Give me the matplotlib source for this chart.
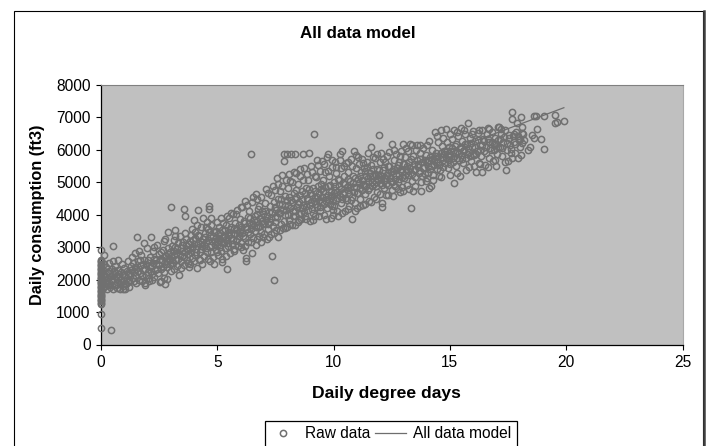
import numpy as np
import matplotlib.pyplot as plt
from matplotlib.patches import Rectangle

plt.rcParams["font.family"] = ["Liberation Sans", "DejaVu Sans"]

# -------------------------------
# DATA
# -------------------------------
zero_days = [(0.0, v) for v in [510, 930, 1250, 1290, 1330, 1370, 1410, 1450, 1490, 1530, 1570, 1610, 1650,
                                1690, 1730, 1770, 1810, 1850, 1890, 1930, 1970, 2010, 2050, 2090, 2130, 2170,
                                2210, 2250, 2290, 2330, 2370, 2410, 2450, 2490, 2530, 2570, 2610, 2900]]

band_0 = [(0.45, 440), (0.5, 3030), (0.15, 2750), (0.08, 1730), (0.1, 1900), (0.12, 2080), (0.09, 2290), (0.14, 2470),
          (0.18, 1800), (0.2, 1980), (0.22, 2180), (0.2, 2380), (0.27, 1720), (0.3, 1880), (0.31, 2050), (0.33, 2260),
          (0.35, 2520), (0.4, 1760), (0.42, 1950), (0.45, 2120), (0.46, 2340), (0.5, 2560), (0.52, 1720), (0.55, 1840),
          (0.58, 2010), (0.6, 2200), (0.62, 2430), (0.68, 1750), (0.7, 1920), (0.73, 2090), (0.72, 2300), (0.75, 2620),
          (0.8, 1700), (0.82, 1860), (0.85, 2020), (0.87, 2240), (0.9, 2480), (0.93, 1720), (0.95, 1800), (0.98, 1960),
          (1.0, 2150), (0.97, 2360)]

band_1 = [(1.05, 1720), (1.08, 1880), (1.1, 2060), (1.12, 2280), (1.15, 2560), (1.2, 1780), (1.22, 1990), (1.25, 2180),
          (1.3, 2420), (1.33, 2690), (1.38, 2040), (1.4, 2250), (1.45, 2830), (1.5, 2120), (1.52, 2330), (1.55, 3320),
          (1.58, 2560), (1.63, 2000), (1.68, 2190), (1.7, 2440), (1.72, 2750), (1.78, 1960), (1.8, 2300), (1.83, 2620),
          (1.88, 1830), (1.9, 1900), (1.92, 2130), (1.95, 2480), (1.97, 2960), (2.0, 2240), (1.62, 2880), (1.85, 3120)]

band_2 = [(2.05, 1950), (2.08, 2060), (2.1, 2380), (2.12, 2700), (2.15, 3320), (2.2, 2170), (2.22, 2510), (2.25, 2890),
          (2.3, 2090), (2.33, 2290), (2.38, 2620), (2.4, 3060), (2.45, 2200), (2.48, 2440), (2.5, 2780), (2.55, 1930),
          (2.58, 2330), (2.6, 1960), (2.62, 2590), (2.65, 2920), (2.7, 3180), (2.72, 2250), (2.75, 1880), (2.78, 2480),
          (2.8, 2720), (2.83, 2010), (2.85, 2380), (2.88, 2980), (2.9, 3475), (2.92, 2620), (2.95, 2840), (2.98, 2480)]

band_3 = [(3.02, 4250), (3.0, 2270), (3.03, 2720), (3.05, 3050), (3.1, 2500), (3.12, 2880), (3.15, 3220), (3.2, 3530),
          (3.22, 2620), (3.25, 2430), (3.28, 2970), (3.3, 3130), (3.36, 2140), (3.38, 2770), (3.4, 3360), (3.45, 2560),
          (3.47, 2880), (3.5, 3060), (3.55, 4175), (3.57, 2440), (3.58, 2690), (3.62, 3970), (3.64, 3240), (3.68, 2930),
          (3.7, 2590), (3.72, 2780), (3.78, 3100), (3.8, 2380), (3.83, 2480), (3.85, 3380), (3.88, 2860), (3.9, 2680),
          (3.93, 3020), (3.95, 3210), (3.98, 2560), (4.0, 3835)]

band_4 = [(4.02, 2750), (4.05, 3480), (4.08, 2950), (4.12, 2350), (4.15, 3130), (4.18, 4145), (4.2, 2630), (4.22, 3330),
          (4.25, 2860), (4.3, 3620), (4.33, 3040), (4.35, 2480), (4.38, 3250), (4.4, 3890), (4.43, 2720), (4.45, 3440),
          (4.5, 2960), (4.52, 3150), (4.55, 3780), (4.58, 3560), (4.6, 2640), (4.65, 4280), (4.63, 4180), (4.68, 3020),
          (4.7, 3330), (4.72, 2850), (4.75, 3680), (4.78, 3190), (4.8, 2700), (4.84, 2470), (4.86, 3470), (4.9, 3060),
          (4.93, 3280), (4.96, 2920), (4.98, 3785), (5.0, 3150)]

band_5 = [(5.03, 2760), (5.05, 3400), (5.08, 3610), (5.1, 3020), (5.13, 3230), (5.16, 2880), (5.2, 2550), (5.2, 2650),
          (5.22, 3520), (5.25, 3760), (5.28, 3120), (5.3, 3340), (5.34, 2960), (5.38, 3680), (5.41, 2320), (5.43, 3210),
          (5.46, 3030), (5.5, 3460), (5.52, 3900), (5.55, 2820), (5.58, 3280), (5.6, 3620), (5.64, 3100), (5.68, 4010),
          (5.7, 3400), (5.73, 2940), (5.76, 3740), (5.8, 3200), (5.83, 3530), (5.86, 4140), (5.9, 3040), (5.93, 3330),
          (5.96, 3860), (6.0, 3620)]

band_6 = [(6.02, 3130), (6.05, 4240), (6.08, 3450), (6.1, 2920), (6.14, 3740), (6.18, 3280), (6.2, 4420), (6.25, 2580),
          (6.25, 2680), (6.28, 3560), (6.3, 3920), (6.34, 3160), (6.38, 4130), (6.4, 3400), (6.43, 3680), (6.47, 5870),
          (6.5, 2830), (6.52, 3290), (6.55, 4540), (6.58, 3830), (6.6, 3510), (6.65, 4650), (6.68, 3080), (6.7, 4020),
          (6.74, 3630), (6.78, 3340), (6.8, 4280), (6.84, 3900), (6.88, 3480), (6.9, 3150), (6.94, 4110), (6.98, 3720)]

band_7 = [(7.0, 3420), (7.04, 4370), (7.08, 3850), (7.12, 3250), (7.16, 4660), (7.2, 3560), (7.24, 4100), (7.28, 3770),
          (7.3, 3400), (7.35, 2730), (7.38, 4900), (7.4, 3650), (7.45, 2000), (7.47, 4230), (7.5, 3920), (7.53, 3540),
          (7.56, 5120), (7.6, 4480), (7.63, 3300), (7.66, 4060), (7.7, 4720), (7.74, 3720), (7.78, 5240), (7.8, 4320),
          (7.84, 3580), (7.85, 5860), (7.88, 5670), (7.9, 3980), (7.93, 4570), (7.96, 4160), (8.0, 5860), (8.0, 3620)]

band_8 = [(8.02, 4820), (8.05, 4290), (8.08, 3850), (8.12, 5050), (8.15, 5860), (8.17, 4440), (8.2, 3680), (8.24, 4110),
          (8.28, 4670), (8.3, 5320), (8.33, 3950), (8.35, 5860), (8.38, 4560), (8.42, 4240), (8.45, 3790), (8.48, 4960),
          (8.5, 4400), (8.54, 5190), (8.58, 4060), (8.6, 3870), (8.63, 4720), (8.68, 5860), (8.7, 4300), (8.74, 5440),
          (8.78, 3960), (8.8, 4840), (8.84, 4520), (8.88, 4140), (8.92, 5080), (8.96, 5915), (8.98, 4660), (9.0, 3800)]

band_9 = [(9.03, 4380), (9.06, 5320), (9.1, 4060), (9.12, 4820), (9.17, 6490), (9.2, 4530), (9.22, 3950), (9.26, 5170),
          (9.3, 4240), (9.33, 5520), (9.36, 4680), (9.4, 4110), (9.44, 4950), (9.48, 5660), (9.5, 4400), (9.53, 5080),
          (9.56, 4740), (9.6, 4000), (9.64, 5330), (9.68, 4550), (9.7, 4220), (9.72, 5780), (9.77, 5860), (9.78, 4880),
          (9.82, 5200), (9.85, 4330), (9.88, 4700), (9.9, 3900), (9.93, 5480), (9.96, 4460), (10.0, 5010), (9.98, 4150)]

band_10 = [(10.03, 4260), (10.05, 5640), (10.08, 4770), (10.12, 5280), (10.15, 4520), (10.18, 3950), (10.2, 5090),
           (10.24, 4880), (10.28, 5860), (10.3, 4360), (10.33, 5440), (10.38, 5950), (10.4, 4650), (10.43, 5200),
           (10.47, 4120), (10.5, 4950), (10.53, 5580), (10.56, 4440), (10.6, 5320), (10.63, 4760), (10.67, 4280),
           (10.7, 5050), (10.74, 5720), (10.78, 4560), (10.81, 3870), (10.84, 5200), (10.88, 4860), (10.89, 5960),
           (10.92, 4360), (10.95, 5430), (11.0, 4680), (10.97, 5830)]

band_11 = [(11.02, 4200), (11.05, 5100), (11.08, 5560), (11.12, 4820), (11.15, 4480), (11.18, 5310), (11.22, 5720),
           (11.25, 4960), (11.28, 4300), (11.32, 5430), (11.35, 4640), (11.38, 5180), (11.42, 5630), (11.47, 5900),
           (11.48, 4760), (11.5, 5040), (11.53, 4410), (11.57, 5300), (11.6, 6100), (11.62, 5530), (11.66, 4880),
           (11.7, 5180), (11.74, 4560), (11.78, 5750), (11.82, 5020), (11.85, 5420), (11.88, 4700), (11.92, 5240),
           (11.96, 6460), (11.98, 4980), (11.99, 5640)]

band_12 = [(12.02, 5110), (12.05, 5900), (12.1, 4370), (12.1, 4250), (12.12, 5380), (12.15, 4840), (12.2, 5620),
           (12.23, 5130), (12.26, 4600), (12.3, 5800), (12.33, 5280), (12.36, 4920), (12.4, 5500), (12.45, 5050),
           (12.5, 6170), (12.52, 4760), (12.55, 5340), (12.58, 5680), (12.62, 5100), (12.65, 4900), (12.7, 5880),
           (12.73, 5440), (12.77, 5000), (12.8, 5640), (12.83, 5220), (12.86, 4700), (12.9, 5980), (12.93, 5330),
           (12.96, 4860), (13.0, 6180), (12.98, 5560)]

band_13 = [(13.03, 5120), (13.06, 5770), (13.1, 5400), (13.14, 4920), (13.18, 5960), (13.22, 5240), (13.26, 5620),
           (13.3, 6180), (13.34, 4220), (13.35, 5040), (13.4, 4730), (13.42, 5800), (13.46, 5380), (13.5, 5160),
           (13.54, 6010), (13.6, 6150), (13.62, 5560), (13.66, 5300), (13.7, 5900), (13.73, 5720), (13.77, 4730),
           (13.8, 5180), (13.84, 6060), (13.88, 5480), (13.92, 5260), (13.96, 5840), (14.0, 5620), (13.98, 5040)]

band_14 = [(14.03, 6150), (14.06, 5300), (14.1, 4840), (14.14, 5780), (14.18, 4890), (14.2, 5500), (14.24, 6000),
           (14.28, 5230), (14.32, 5680), (14.37, 6540), (14.4, 5900), (14.44, 5400), (14.48, 6240), (14.5, 5620),
           (14.55, 5200), (14.57, 5380), (14.6, 6600), (14.64, 5780), (14.68, 6120), (14.72, 5480), (14.76, 5960),
           (14.8, 5610), (14.83, 6640), (14.86, 6250), (14.9, 5440), (14.94, 5820), (14.98, 6100), (15.0, 5560)]

band_15 = [(15.04, 5970), (15.08, 6340), (15.12, 5620), (15.16, 5810), (15.18, 4975), (15.18, 6610), (15.22, 6120),
           (15.26, 5500), (15.3, 5920), (15.34, 6440), (15.38, 5680), (15.42, 6060), (15.45, 5200), (15.47, 6670),
           (15.5, 5840), (15.54, 6280), (15.58, 5580), (15.62, 6000), (15.66, 6480), (15.7, 5750), (15.74, 6180),
           (15.77, 6840), (15.8, 5460), (15.84, 5940), (15.88, 6380), (15.92, 5660), (15.96, 6100), (16.0, 6590)]

band_16 = [(16.04, 5840), (16.08, 6260), (16.13, 5320), (16.16, 5980), (16.2, 6520), (16.24, 5600), (16.28, 6160),
           (16.32, 5800), (16.37, 6610), (16.38, 5320), (16.42, 6320), (16.46, 5950), (16.5, 5520), (16.54, 6100),
           (16.58, 6480), (16.63, 6670), (16.66, 5760), (16.7, 6240), (16.75, 6000), (16.8, 6560), (16.85, 5660),
           (16.9, 6180), (16.95, 6380), (17.0, 5500), (17.02, 5880)]

band_17 = [(17.05, 6300), (17.07, 6720), (17.1, 6720), (17.14, 6080), (17.2, 6480), (17.24, 5800), (17.3, 6240),
           (17.35, 6620), (17.42, 5390), (17.44, 6000), (17.5, 5670), (17.52, 6380), (17.58, 6160), (17.62, 5900),
           (17.67, 7180), (17.67, 6940), (17.7, 6440), (17.76, 6240), (17.8, 5900), (17.84, 6560), (17.88, 6820),
           (17.93, 5760), (17.96, 6300), (18.0, 6100)]

band_18 = [(18.05, 7000), (18.05, 5840), (18.08, 6520), (18.1, 6690), (18.15, 6490), (18.18, 6300), (18.35, 6000),
           (18.45, 6100), (18.53, 6460), (18.6, 6380), (18.62, 7050), (18.72, 7050), (18.73, 6640), (18.92, 6340),
           (19.05, 7050), (19.05, 6040), (19.53, 7080), (19.53, 6830), (19.6, 6860), (19.92, 6900)]

# days that sit inside the dark middle of the cloud
core_a = [(0.17, 2120), (0.24, 1890), (0.36, 2200), (0.38, 1840), (0.48, 1980), (0.55, 2280), (0.64, 2110), (0.66, 1830),
          (0.78, 2160), (0.84, 1940), (1.02, 1860), (1.14, 2140), (1.18, 1920), (1.28, 2310), (1.36, 2520), (1.43, 1960),
          (1.48, 2400), (1.6, 2260), (1.66, 2620), (1.75, 2120), (1.82, 2480), (1.9, 2340), (2.02, 2600), (2.14, 2260),
          (2.18, 2420), (2.27, 2650), (2.35, 2480), (2.42, 2340), (2.52, 2640), (2.56, 2840), (2.67, 2380), (2.7, 2700),
          (2.82, 2560), (2.87, 2800), (2.96, 2650), (3.07, 2620), (3.13, 2760), (3.18, 3000), (3.24, 2820), (3.33, 2640),
          (3.42, 2960), (3.48, 2720), (3.53, 3170), (3.6, 2840), (3.66, 3060), (3.75, 2920), (3.82, 3180), (3.9, 2960),
          (4.0, 3110), (4.06, 3270), (4.1, 2840), (4.17, 3380), (4.24, 3100), (4.28, 2940), (4.36, 3160), (4.42, 3060),
          (4.48, 3320), (4.54, 2860), (4.6, 3220), (4.66, 3460), (4.74, 3060), (4.82, 3340), (4.88, 3180), (4.94, 3500),
          (5.02, 3100), (5.07, 3280), (5.12, 3440), (5.18, 3160), (5.24, 3300), (5.32, 3540), (5.36, 3240), (5.44, 3380),
          (5.48, 3120), (5.54, 3560), (5.6, 3400), (5.66, 3220), (5.72, 3580), (5.78, 3420), (5.84, 3260), (5.92, 3680),
          (5.98, 3460), (6.04, 3560), (6.12, 3340), (6.16, 3820), (6.22, 3620), (6.3, 3480), (6.36, 3740), (6.42, 3900),
          (6.46, 3560), (6.54, 3700), (6.62, 3960), (6.66, 3620), (6.72, 3800), (6.76, 4180), (6.82, 3640), (6.92, 3820),
          (6.96, 4020), (7.02, 3740), (7.06, 4120), (7.14, 3960), (7.18, 3700), (7.26, 4260), (7.32, 3900), (7.36, 4080),
          (7.42, 4400), (7.48, 3780), (7.54, 4160), (7.58, 3940), (7.64, 4340), (7.7, 4040), (7.76, 4500), (7.82, 4140),
          (7.87, 3820), (7.92, 4280), (7.98, 4440), (8.04, 4000), (8.1, 4560), (8.14, 4200), (8.2, 4380), (8.26, 3960)]

core_b = [(8.32, 4480), (8.36, 4120), (8.4, 4760), (8.46, 4320), (8.52, 4020), (8.56, 4620), (8.62, 4220), (8.66, 4480),
          (8.72, 4100), (8.76, 4680), (8.82, 4260), (8.9, 4440), (8.94, 4800), (9.0, 4300), (9.05, 4620), (9.08, 4180),
          (9.14, 4420), (9.18, 4720), (9.24, 4320), (9.28, 4560), (9.34, 4900), (9.38, 4440), (9.42, 4240), (9.46, 4780),
          (9.52, 4540), (9.58, 4320), (9.62, 4860), (9.66, 4420), (9.74, 4620), (9.8, 4440), (9.84, 4920), (9.9, 4580),
          (9.94, 4260), (10.02, 4680), (10.06, 4900), (10.1, 4440), (10.16, 4700), (10.22, 5060), (10.26, 4580), (10.32, 4800),
          (10.36, 4480), (10.42, 4980), (10.46, 4700), (10.52, 4520), (10.58, 4860), (10.62, 5100), (10.66, 4640), (10.72, 4860),
          (10.76, 4460), (10.82, 4980), (10.86, 4700), (10.94, 5120), (10.98, 4860), (11.04, 4680), (11.1, 4980), (11.14, 5200),
          (11.2, 4760), (11.24, 5080), (11.3, 4880), (11.36, 5340), (11.4, 4900), (11.46, 5120), (11.52, 4820), (11.56, 5180),
          (11.64, 5020), (11.68, 5400), (11.72, 4940), (11.8, 5260), (11.84, 4900), (11.9, 5100), (11.94, 5380), (12.0, 5220),
          (12.06, 4920), (12.08, 5200), (12.16, 5040), (12.18, 5460), (12.24, 4960), (12.28, 5220), (12.34, 5500), (12.42, 5120),
          (12.47, 5320), (12.5, 5000), (12.6, 5420), (12.68, 5220), (12.75, 5540), (12.82, 5100), (12.88, 5420), (12.95, 5160),
          (13.02, 5560), (13.08, 5240), (13.16, 5500), (13.2, 5340), (13.28, 5440), (13.33, 5720), (13.38, 5260), (13.44, 5560),
          (13.52, 5420), (13.58, 5680), (13.64, 5480), (13.72, 5340), (13.78, 5620), (13.86, 5440), (13.94, 5700), (14.04, 5500),
          (14.08, 5660), (14.16, 5400), (14.22, 5720), (14.3, 5540), (14.36, 5800), (14.42, 5620), (14.46, 5800), (14.54, 5540),
          (14.62, 5900), (14.7, 5700), (14.74, 5860), (14.82, 5760), (14.88, 5980), (14.96, 5700), (15.02, 5840), (15.1, 6060),
          (15.14, 5740), (15.2, 5900), (15.28, 6180), (15.32, 5760), (15.4, 5900), (15.46, 6100), (15.52, 5720), (15.56, 5980),
          (15.64, 6180), (15.72, 5860), (15.78, 6060), (15.86, 5800), (15.9, 6200), (15.98, 5880), (16.06, 6100), (16.14, 5880),
          (16.22, 6300), (16.3, 6000), (16.4, 6160), (16.48, 6260), (16.56, 5900), (16.64, 6340), (16.72, 6060), (16.82, 6240),
          (16.88, 6000), (16.98, 6180), (17.08, 6100), (17.16, 6340), (17.26, 6060), (17.34, 6400), (17.46, 6200), (17.56, 6460),
          (17.64, 6040), (17.74, 6500), (17.82, 6180), (17.92, 6420), (18.0, 6340), (18.1, 6200)]

# wider shoulders of the cloud, above and below the middle
upper_side = [(2.3, 3000), (2.76, 3250), (3.16, 3350), (3.6, 3430), (3.9, 3560), (4.12, 3690), (4.5, 3620), (4.72, 3900),
              (5.14, 3900), (5.4, 3950), (5.6, 4060), (5.82, 4020), (6.0, 4240), (6.26, 4300), (6.48, 4400), (6.7, 4480),
              (6.9, 4560), (7.1, 4780), (7.3, 4620), (7.46, 4760), (7.62, 4940), (7.8, 4880), (7.94, 5060), (8.1, 5260),
              (8.22, 5020), (8.4, 5280), (8.56, 5400), (8.7, 5080), (8.86, 5260), (9.02, 5500), (9.2, 5180), (9.28, 5700),
              (9.42, 5340), (9.6, 5560), (9.76, 5340), (9.92, 5700), (10.1, 5460), (10.26, 5700), (10.44, 5500), (10.62, 5640),
              (10.8, 5500), (11.06, 5780), (11.26, 5600), (11.44, 5480), (11.68, 5780), (11.88, 5860), (12.14, 5720), (12.38, 5920),
              (12.6, 6000), (12.84, 5820), (13.12, 6060), (13.38, 6150), (13.72, 6160), (14.12, 6260), (14.44, 6420), (14.7, 6380),
              (15.02, 6500), (15.32, 6560), (15.62, 6620), (15.94, 6480), (16.26, 6600), (16.7, 6640), (17.2, 6650)]

lower_side = [(1.5, 1900), (2.2, 1990), (2.7, 2060), (3.14, 2330), (3.44, 2360), (3.76, 2520), (4.26, 2620), (4.7, 2580),
              (5.0, 2840), (5.36, 2720), (5.7, 2880), (6.0, 3000), (6.2, 3040), (6.44, 3150), (6.72, 3240), (6.96, 3300),
              (7.22, 3320), (7.44, 3430), (7.7, 3520), (7.92, 3580), (8.14, 3720), (8.34, 3690), (8.52, 3840), (8.82, 3880),
              (9.12, 3840), (9.38, 3960), (9.68, 3880), (9.96, 4000), (10.14, 4110), (10.38, 4060), (10.64, 4180), (10.9, 4120),
              (11.12, 4260), (11.34, 4340), (11.6, 4400), (11.82, 4480), (12.0, 4640), (12.32, 4620), (12.56, 4580), (12.78, 4780),
              (13.0, 4720), (13.24, 4780), (13.5, 4900), (13.74, 5000), (14.0, 5120), (14.26, 5080), (14.6, 5160), (15.0, 5240),
              (15.3, 5300), (15.7, 5380), (16.04, 5500), (16.3, 5560), (16.62, 5480), (16.96, 5680), (17.36, 5640), (17.66, 5760)]

raw_bands = [zero_days, band_0, band_1, band_2, band_3, band_4, band_5, band_6, band_7, band_8, band_9,
             band_10, band_11, band_12, band_13, band_14, band_15, band_16, band_17, band_18, core_a, core_b,
             upper_side, lower_side]

raw_data = np.array([p for band in raw_bands for p in band])

model_x = [0, 19.9]
model_y = [1950, 7300]

x_ticks = [0, 5, 10, 15, 20, 25]
y_ticks = [0, 1000, 2000, 3000, 4000, 5000, 6000, 7000, 8000]

# -------------------------------
# FIGURE
# -------------------------------
W, H = 707, 446
fig = plt.figure(figsize=(W / 100, H / 100), dpi=100)

# outer chart frame runs off the bottom of the picture
fig.add_artist(Rectangle((14 / W, -0.02), (702.5 - 14) / W, 1.02 - 11 / H, transform=fig.transFigure,
                         fill=False, edgecolor="black", linewidth=0.8))
fig.add_artist(plt.Line2D([703.5 / W, 703.5 / W], [0, 1 - 11 / H], transform=fig.transFigure,
                          color="#404040", linewidth=1.8))

ax = fig.add_axes([101 / W, 1 - 344.5 / H, (682.5 - 101) / W, (344.5 - 85) / H])
ax.set_facecolor("#c0c0c0")

ax.plot(model_x, model_y, color="#6e6e6e", linewidth=0.9, label="All data model", zorder=2)
ax.plot(raw_data[:, 0], raw_data[:, 1], linestyle="none", marker="o", markersize=4.5, markerfacecolor="none",
        markeredgecolor="#707070", markeredgewidth=1.1, label="Raw data", clip_on=False, zorder=3)

ax.set_xlim(0, 25)
ax.set_ylim(0, 8000)
ax.set_xticks(x_ticks)
ax.set_yticks(y_ticks)
ax.tick_params(labelsize=11.2, length=3.5, width=0.8, pad=4, color="black")

ax.spines["top"].set_color("#808080")
ax.spines["right"].set_color("#a8a8a8")
ax.spines["left"].set_linewidth(0.9)
ax.spines["bottom"].set_linewidth(0.9)

fig.text(358 / W, 1 - 33 / H, "All data model", fontsize=12.2, fontweight="bold", ha="center", va="center")
fig.text(386 / W, 1 - 393.5 / H, "Daily degree days", fontsize=12.6, fontweight="bold", ha="center", va="center")
fig.text(37.5 / W, 1 - 214.5 / H, "Daily consumption (ft3)", fontsize=11.7, fontweight="bold", rotation=90,
         ha="center", va="center")

# -------------------------------
# LEGEND
# -------------------------------
# box runs off the bottom of the picture as well
fig.add_artist(Rectangle((265 / W, -0.02), (517 - 265) / W, 0.02 + (446 - 421) / H, transform=fig.transFigure,
                         fill=False, edgecolor="black", linewidth=0.9))

handles, labels = ax.get_legend_handles_labels()
leg = fig.legend(handles[::-1], labels[::-1], ncol=2, loc="center left", bbox_to_anchor=(265 / W, 1 - 433.5 / H),
                 fontsize=11.2, frameon=False, borderaxespad=0, borderpad=0.2, handlelength=1.95, handletextpad=0.45,
                 columnspacing=0.3)

fig.savefig("out.png", dpi=100)
